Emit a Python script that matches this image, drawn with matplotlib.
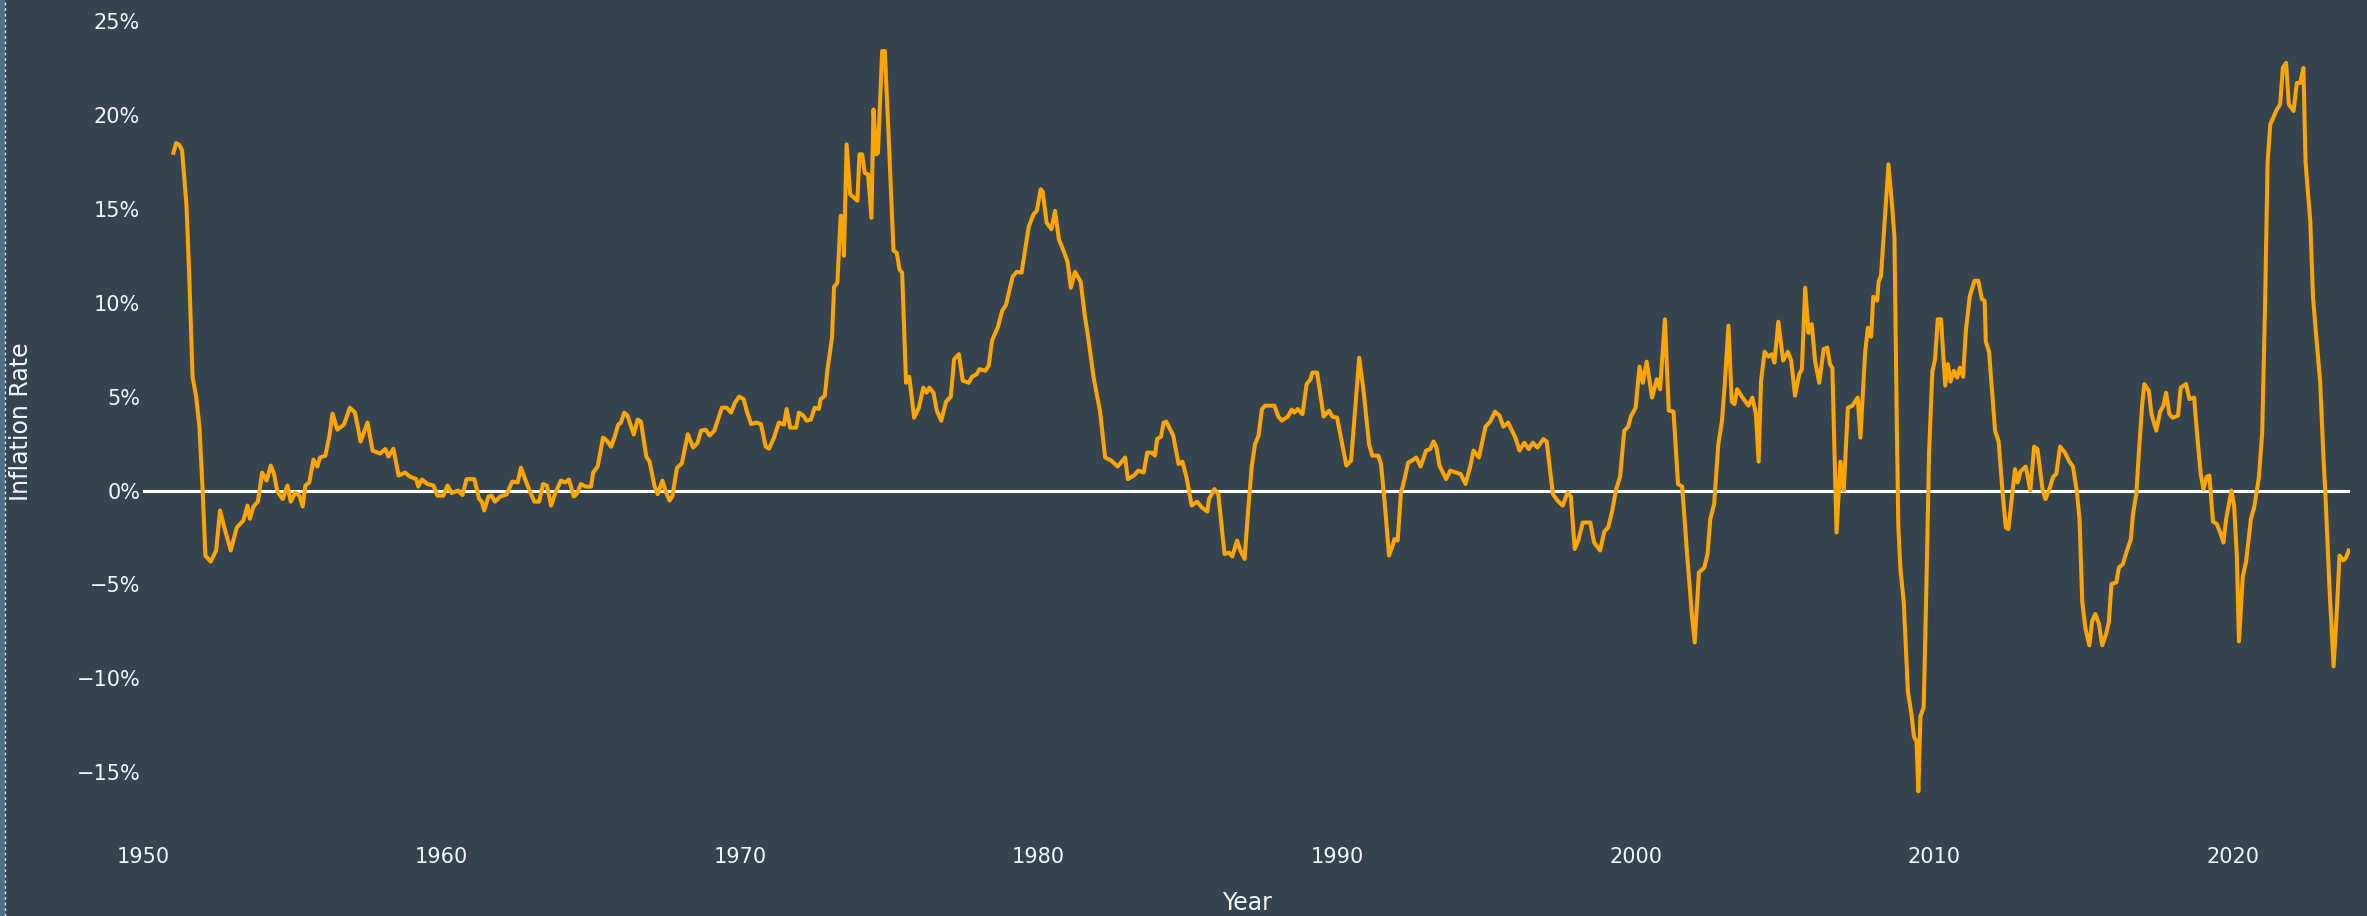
import matplotlib
matplotlib.use('Agg')

import matplotlib.pyplot as plt
from matplotlib.ticker import FuncFormatter, MultipleLocator
from matplotlib.lines import Line2D
from matplotlib.patches import Rectangle

# inflation rate (%), split by decade
yr_50s = [1951.02, 1951.11, 1951.22, 1951.31, 1951.46, 1951.55, 1951.66, 1951.78, 1951.89, 1952.0,
          1952.09, 1952.27, 1952.45, 1952.58, 1952.76, 1952.94, 1953.14, 1953.36, 1953.5, 1953.58,
          1953.7, 1953.85, 1953.99, 1954.14, 1954.28, 1954.39, 1954.5, 1954.68, 1954.84, 1954.95,
          1955.1, 1955.24, 1955.35, 1955.44, 1955.57, 1955.71, 1955.84, 1955.93, 1956.11, 1956.24,
          1956.35, 1956.51, 1956.73, 1956.93, 1957.1, 1957.29, 1957.52, 1957.69, 1957.94, 1958.12,
          1958.22, 1958.39, 1958.56, 1958.78, 1958.94, 1959.15, 1959.22, 1959.34, 1959.53, 1959.73,
          1959.86]
rt_50s = [17.98, 18.5, 18.4, 18.1, 15.1, 11.4, 6.06, 5.0, 3.4, -0.05,
          -3.46, -3.78, -3.19, -1.06, -2.18, -3.19, -1.97, -1.6, -0.8, -1.5,
          -0.85, -0.59, 0.96, 0.53, 1.33, 0.88, -0.05, -0.45, 0.27, -0.59,
          -0.1, -0.27, -0.85, 0.27, 0.43, 1.65, 1.28, 1.76, 1.86, 2.87,
          4.1, 3.24, 3.51, 4.41, 4.15, 2.61, 3.62, 2.13, 1.97, 2.21,
          1.81, 2.23, 0.8, 0.96, 0.74, 0.61, 0.21, 0.59, 0.35, 0.27,
          -0.27]

yr_60s = [1960.06, 1960.2, 1960.34, 1960.56, 1960.7, 1960.84, 1961.1, 1961.26, 1961.35, 1961.43,
          1961.57, 1961.68, 1961.79, 1961.96, 1962.18, 1962.37, 1962.55, 1962.66, 1962.8, 1962.93,
          1963.11, 1963.27, 1963.4, 1963.53, 1963.67, 1963.82, 1964.0, 1964.14, 1964.27, 1964.43,
          1964.54, 1964.67, 1964.83, 1965.01, 1965.08, 1965.23, 1965.41, 1965.54, 1965.68, 1965.79,
          1965.92, 1966.01, 1966.12, 1966.23, 1966.44, 1966.57, 1966.68, 1966.86, 1966.97, 1967.13,
          1967.24, 1967.4, 1967.51, 1967.64, 1967.73, 1967.89, 1968.05, 1968.25, 1968.43, 1968.58,
          1968.69, 1968.85, 1968.98, 1969.14, 1969.39, 1969.55, 1969.7, 1969.83, 1969.97]
rt_60s = [-0.27, 0.27, -0.13, 0.0, -0.24, 0.61, 0.61, -0.45, -0.59, -1.06,
          -0.32, -0.27, -0.59, -0.32, -0.21, 0.48, 0.43, 1.22, 0.61, 0.08,
          -0.59, -0.59, 0.35, 0.27, -0.8, -0.1, 0.53, 0.43, 0.59, -0.32,
          -0.16, 0.35, 0.21, 0.21, 0.96, 1.28, 2.82, 2.66, 2.34, 2.82,
          3.51, 3.62, 4.15, 3.99, 2.98, 3.78, 3.67, 1.81, 1.54, 0.27,
          -0.19, 0.53, -0.05, -0.53, -0.32, 1.22, 1.44, 3.0, 2.29, 2.55,
          3.19, 3.24, 2.93, 3.19, 4.41, 4.41, 4.15, 4.68, 5.0]

yr_70s = [1970.12, 1970.22, 1970.37, 1970.55, 1970.7, 1970.86, 1970.97, 1971.14, 1971.3, 1971.47,
          1971.56, 1971.68, 1971.88, 1971.97, 1972.12, 1972.23, 1972.37, 1972.5, 1972.64, 1972.7,
          1972.84, 1972.93, 1973.08, 1973.15, 1973.26, 1973.37, 1973.44, 1973.48, 1973.57, 1973.69,
          1973.93, 1974.0, 1974.09, 1974.18, 1974.29, 1974.4, 1974.47, 1974.56, 1974.62, 1974.76,
          1974.85, 1975.0, 1975.14, 1975.25, 1975.34, 1975.43, 1975.56, 1975.67, 1975.83, 1975.99,
          1976.14, 1976.25, 1976.34, 1976.48, 1976.59, 1976.74, 1976.9, 1977.06, 1977.17, 1977.33,
          1977.46, 1977.66, 1977.77, 1977.93, 1978.02, 1978.22, 1978.33, 1978.44, 1978.64, 1978.78,
          1978.91, 1979.13, 1979.27, 1979.43, 1979.67, 1979.83, 1979.94]
rt_70s = [4.87, 4.26, 3.54, 3.62, 3.54, 2.34, 2.23, 2.82, 3.62, 3.51,
          4.34, 3.35, 3.35, 4.15, 3.99, 3.72, 3.78, 4.41, 4.34, 4.87,
          5.05, 6.46, 8.14, 10.85, 11.06, 14.63, 14.57, 12.5, 18.43, 15.77,
          15.43, 17.9, 17.9, 16.9, 16.84, 14.52, 20.29, 17.9, 17.98, 23.4,
          23.4, 18.03, 12.77, 12.66, 11.78, 11.6, 5.74, 6.06, 3.88, 4.41,
          5.48, 5.21, 5.48, 5.21, 4.26, 3.72, 4.73, 5.0, 6.99, 7.26,
          5.85, 5.74, 6.06, 6.2, 6.46, 6.38, 6.65, 7.98, 8.72, 9.57,
          9.89, 11.38, 11.65, 11.6, 14.04, 14.71, 14.89]

yr_80s = [1980.07, 1980.14, 1980.27, 1980.43, 1980.55, 1980.68, 1980.85, 1980.97, 1981.08, 1981.22,
          1981.41, 1981.55, 1981.67, 1981.84, 1982.06, 1982.23, 1982.43, 1982.65, 1982.9, 1982.99,
          1983.19, 1983.34, 1983.52, 1983.64, 1983.79, 1983.9, 1983.97, 1984.1, 1984.19, 1984.28,
          1984.51, 1984.69, 1984.82, 1984.95, 1985.13, 1985.31, 1985.47, 1985.65, 1985.71, 1985.89,
          1986.02, 1986.23, 1986.38, 1986.49, 1986.65, 1986.76, 1986.9, 1987.03, 1987.14, 1987.25,
          1987.37, 1987.48, 1987.59, 1987.9, 1988.03, 1988.15, 1988.35, 1988.48, 1988.57, 1988.68,
          1988.84, 1988.98, 1989.11, 1989.17, 1989.33, 1989.55, 1989.73, 1989.84]
rt_80s = [16.04, 15.9, 14.26, 13.91, 14.89, 13.38, 12.71, 12.18, 10.8, 11.65,
          11.12, 9.3, 8.06, 6.06, 4.2, 1.76, 1.6, 1.28, 1.76, 0.61,
          0.8, 1.06, 0.96, 2.02, 2.02, 1.86, 2.74, 2.87, 3.62, 3.67,
          2.93, 1.41, 1.54, 0.74, -0.8, -0.59, -0.9, -1.12, -0.45, 0.08,
          -0.19, -3.38, -3.3, -3.51, -2.66, -3.19, -3.64, -0.85, 1.28, 2.47,
          2.93, 4.34, 4.52, 4.52, 3.94, 3.72, 3.94, 4.31, 4.15, 4.34,
          4.07, 5.66, 5.93, 6.28, 6.28, 3.94, 4.26, 3.94]

yr_90s = [1990.0, 1990.31, 1990.47, 1990.74, 1990.88, 1991.07, 1991.18, 1991.38, 1991.47, 1991.59,
          1991.74, 1991.85, 1991.92, 1992.03, 1992.14, 1992.2, 1992.38, 1992.51, 1992.65, 1992.8,
          1992.98, 1993.12, 1993.23, 1993.32, 1993.43, 1993.65, 1993.79, 1993.99, 1994.14, 1994.3,
          1994.46, 1994.57, 1994.75, 1994.97, 1995.13, 1995.29, 1995.44, 1995.57, 1995.73, 1995.86,
          1995.97, 1996.11, 1996.27, 1996.42, 1996.56, 1996.71, 1996.91, 1997.02, 1997.23, 1997.38,
          1997.56, 1997.72, 1997.83, 1997.96, 1998.07, 1998.23, 1998.48, 1998.61, 1998.81, 1998.95,
          1999.08, 1999.21, 1999.35, 1999.48, 1999.62, 1999.75, 1999.84]
rt_90s = [3.88, 1.33, 1.6, 7.07, 5.4, 2.47, 1.86, 1.86, 1.41, -0.59,
          -3.46, -2.98, -2.58, -2.66, -0.05, 0.21, 1.49, 1.6, 1.76, 1.28,
          2.13, 2.21, 2.61, 2.34, 1.33, 0.61, 1.06, 0.96, 0.88, 0.35,
          1.28, 2.13, 1.76, 3.4, 3.67, 4.2, 3.99, 3.4, 3.62, 3.19,
          2.82, 2.13, 2.55, 2.21, 2.55, 2.29, 2.74, 2.61, -0.19, -0.53,
          -0.8, -0.1, -0.32, -3.11, -2.71, -1.7, -1.7, -2.77, -3.19, -2.18,
          -1.97, -1.12, 0.08, 0.74, 3.19, 3.4, 3.94]

yr_00s = [2000.0, 2000.13, 2000.24, 2000.37, 2000.55, 2000.71, 2000.82, 2000.98, 2001.11, 2001.27,
          2001.42, 2001.56, 2001.74, 2001.89, 2001.98, 2002.12, 2002.3, 2002.41, 2002.5, 2002.63,
          2002.77, 2002.89, 2002.98, 2003.11, 2003.22, 2003.31, 2003.4, 2003.56, 2003.78, 2003.91,
          2004.03, 2004.12, 2004.2, 2004.32, 2004.45, 2004.56, 2004.65, 2004.78, 2004.94, 2005.1,
          2005.21, 2005.34, 2005.48, 2005.57, 2005.68, 2005.79, 2005.9, 2006.01, 2006.15, 2006.3,
          2006.42, 2006.51, 2006.59, 2006.73, 2006.86, 2006.97, 2007.11, 2007.26, 2007.44, 2007.53,
          2007.69, 2007.78, 2007.89, 2007.96, 2008.09, 2008.14, 2008.22, 2008.34, 2008.47, 2008.58,
          2008.67, 2008.75, 2008.8, 2008.87, 2008.98, 2009.12, 2009.25, 2009.32, 2009.41, 2009.47,
          2009.54, 2009.65, 2009.74, 2009.83, 2009.94]
rt_00s = [4.41, 6.6, 5.74, 6.86, 4.95, 5.93, 5.4, 9.12, 4.26, 4.2,
          0.35, 0.21, -3.72, -6.7, -8.09, -4.36, -4.1, -3.38, -1.52, -0.72,
          2.47, 3.67, 5.53, 8.78, 4.73, 4.6, 5.4, 5.0, 4.52, 4.95,
          4.07, 1.54, 5.8, 7.39, 7.13, 7.26, 6.81, 8.99, 6.92, 7.39,
          6.92, 5.05, 6.2, 6.46, 10.8, 8.4, 8.86, 6.92, 5.74, 7.53,
          7.61, 6.73, 6.54, -2.23, 1.54, 0.0, 4.41, 4.52, 4.95, 2.82,
          7.39, 8.67, 8.19, 10.32, 10.11, 11.12, 11.44, 14.31, 17.37, 15.37,
          13.51, 3.4, -1.91, -4.18, -5.9, -10.69, -12.02, -13.09, -13.35, -16.01,
          -12.02, -11.54, -5.11, 2.07, 6.33]

yr_10s = [2010.03, 2010.12, 2010.23, 2010.37, 2010.46, 2010.55, 2010.66, 2010.77, 2010.86, 2010.97,
          2011.06, 2011.19, 2011.35, 2011.48, 2011.6, 2011.69, 2011.73, 2011.84, 2012.04, 2012.16,
          2012.29, 2012.4, 2012.49, 2012.62, 2012.71, 2012.8, 2012.89, 2013.07, 2013.22, 2013.35,
          2013.46, 2013.64, 2013.73, 2013.86, 2013.99, 2014.09, 2014.22, 2014.38, 2014.53, 2014.65,
          2014.78, 2014.87, 2014.96, 2015.07, 2015.2, 2015.29, 2015.4, 2015.52, 2015.63, 2015.76,
          2015.85, 2015.94, 2016.1, 2016.19, 2016.32, 2016.45, 2016.59, 2016.66, 2016.77, 2016.86,
          2016.97, 2017.04, 2017.19, 2017.28, 2017.44, 2017.57, 2017.68, 2017.77, 2017.88, 2017.99,
          2018.17, 2018.26, 2018.44, 2018.55, 2018.71, 2018.8, 2018.93, 2019.02, 2019.13, 2019.22,
          2019.34, 2019.47, 2019.6, 2019.69, 2019.78, 2019.96]
rt_10s = [6.99, 9.12, 9.12, 5.59, 6.73, 5.8, 6.38, 6.01, 6.54, 6.06,
          8.46, 10.32, 11.17, 11.17, 10.19, 10.11, 7.93, 7.39, 3.19, 2.61,
          -0.05, -1.97, -2.05, -0.1, 1.14, 0.43, 1.01, 1.28, 0.0, 2.34,
          2.21, -0.05, -0.45, 0.08, 0.74, 0.88, 2.34, 2.02, 1.54, 1.28,
          -0.05, -1.52, -5.9, -7.37, -8.24, -6.97, -6.57, -7.1, -8.24, -7.63,
          -7.02, -4.97, -4.89, -4.1, -3.91, -3.24, -2.58, -1.25, -0.19, 2.07,
          4.6, 5.67, 5.32, 4.07, 3.19, 4.2, 4.52, 5.21, 4.07, 3.88,
          3.99, 5.48, 5.67, 4.87, 4.95, 3.14, 0.88, 0.08, 0.74, 0.8,
          -1.65, -1.78, -2.31, -2.77, -1.52, 0.0]

yr_20s = [2020.05, 2020.14, 2020.21, 2020.34, 2020.45, 2020.61, 2020.72, 2020.88, 2020.99, 2021.08,
          2021.17, 2021.26, 2021.37, 2021.48, 2021.59, 2021.68, 2021.79, 2021.88, 2022.04, 2022.15,
          2022.26, 2022.37, 2022.44, 2022.6, 2022.69, 2022.8, 2022.93, 2023.04, 2023.11, 2023.24,
          2023.38, 2023.47, 2023.58, 2023.71, 2023.8, 2023.89]
rt_20s = [-0.85, -3.51, -8.03, -4.57, -3.78, -1.52, -0.9, 0.74, 3.14, 9.52,
          17.5, 19.49, 19.89, 20.29, 20.56, 22.5, 22.77, 20.56, 20.21, 21.7,
          21.7, 22.5, 17.5, 14.31, 10.32, 8.19, 5.8, 1.81, -0.32, -5.11,
          -9.36, -6.97, -3.46, -3.72, -3.56, -3.19]

years = yr_50s + yr_60s + yr_70s + yr_80s + yr_90s + yr_00s + yr_10s + yr_20s
rate = rt_50s + rt_60s + rt_70s + rt_80s + rt_90s + rt_00s + rt_10s + rt_20s

BG = '#36444f'
TXT = '#f2f5fa'
W, H = 2367, 916

fig = plt.figure(figsize=(W / 100, H / 100), dpi=100)
fig.patch.set_facecolor(BG)

ax = fig.add_axes([143 / W, (H - 830) / H, (2350 - 143) / W, 825 / H])
ax.set_facecolor(BG)

ax.axhline(0, color='white', lw=2.2, zorder=1)
ax.plot(years, rate, color='#ffa500', lw=2.9, solid_joinstyle='round', zorder=2)

ax.set_xlim(1950, 2023.93)
ax.set_ylim(-18.07, 25.85)
ax.xaxis.set_major_locator(MultipleLocator(10))
ax.yaxis.set_major_locator(MultipleLocator(5))
ax.yaxis.set_major_formatter(FuncFormatter(lambda v, p: ('\u2212' if v < 0 else '') + '%d%%' % abs(round(v))))

ax.tick_params(axis='both', length=0, colors=TXT, labelsize=15)
ax.tick_params(axis='x', pad=12)
ax.tick_params(axis='y', pad=2)
for s in ax.spines.values():
    s.set_visible(False)

fig.text(1247 / W, 1 - 903 / H, 'Year', color=TXT, fontsize=17, ha='center', va='center')
fig.text(21 / W, 1 - 422 / H, 'Inflation Rate', color=TXT, fontsize=17, ha='center', va='center', rotation=90)

# screenshot edge on the left
fig.patches.append(Rectangle((0, 0), 4 / W, 1, transform=fig.transFigure, color='#4d6f88', zorder=0))
fig.lines.append(Line2D([5 / W, 5 / W], [0, 1], transform=fig.transFigure, color='#dfe8ef', lw=1, ls=(0, (2, 2))))

plt.savefig('out.png', dpi=100, facecolor=BG)
